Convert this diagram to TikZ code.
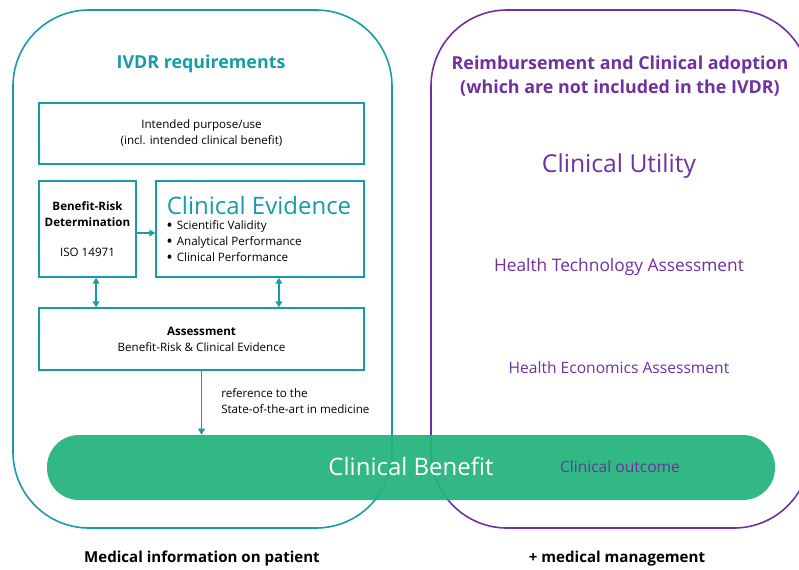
\documentclass[tikz,border=0pt]{standalone}
\usepackage{fontspec}
\setmainfont{Open Sans}
\usetikzlibrary{arrows.meta,positioning}
\definecolor{ivdrteal}{RGB}{22,156,168}
\definecolor{reimbpurple}{RGB}{112,48,160}
\definecolor{benefitgreen}{RGB}{36,180,124}
\newcommand\pxu{0.75pt}
\newcommand\bigbullet{\raisebox{-0.35ex}{\fontsize{13}{12}\selectfont\textbullet}\hspace{3pt}}
\begin{document}
\begin{tikzpicture}[x=0.75pt,y=-0.75pt,
    bigbox/.style={draw, line width=1.2pt, rounded corners=57pt, minimum width={379*\pxu}, minimum height={518*\pxu}},
    tealbox/.style={draw=ivdrteal, line width=1.1pt, align=center, font=\fontsize{8.7}{12}\selectfont, inner sep=0pt},
    tealarrow/.style={draw=ivdrteal, line width=1.1pt, -{Triangle[length=4.5pt,width=5pt]}},
    tealdouble/.style={draw=ivdrteal, line width=1.1pt, {Triangle[length=4.5pt,width=5pt]}-{Triangle[length=4.5pt,width=5pt]}}]
  \useasboundingbox (0,0) rectangle (799,569);
  \clip (0,0) rectangle (799,569);
  % the two areas
  \node[bigbox, draw=ivdrteal] (ivdr) at (202.5,269) {};
  \node[bigbox, draw=reimbpurple] (reimb) at (620.5,269) {};
  \node[text=ivdrteal, font=\fontsize{13.4}{16}\selectfont\bfseries] (ivdrtitle) at (201,63.5) {IVDR requirements};
  \node[text=reimbpurple, font=\fontsize{13.4}{17.5}\selectfont\bfseries, align=center] (reimbtitle) at (620,76) {Reimbursement and Clinical adoption\\(which are not included in the IVDR)};
  % IVDR boxes
  \node[tealbox, minimum width={325*\pxu}, minimum height={61*\pxu}] (purpose) at (201.5,133.5) {Intended purpose/use\\(incl. intended clinical benefit)};
  \node[tealbox, minimum width={97*\pxu}, minimum height={96*\pxu}] (brdet) at (87.5,229) {\textbf{Benefit-Risk}\\\textbf{Determination}\\[11pt]ISO 14971};
  \node[tealbox, minimum width={208*\pxu}, minimum height={96*\pxu}] (clinev) at (260,229) {};
  \node[text=ivdrteal, font=\fontsize{18}{20}\selectfont] (clinevtitle) at (259,205) {Clinical Evidence};
  \node[anchor=north west, align=left, inner sep=0pt, font=\fontsize{8.7}{12}\selectfont] (clinevlist) at (166,220) {\bigbullet Scientific Validity\\\bigbullet Analytical Performance\\\bigbullet Clinical Performance};
  \node[tealbox, minimum width={325*\pxu}, minimum height={62*\pxu}] (assess) at (201.5,339) {\textbf{Assessment}\\Benefit-Risk \& Clinical Evidence};
  % right column texts
  \node[text=reimbpurple, font=\fontsize{18.5}{20}\selectfont] (utility) at (619,166) {Clinical Utility};
  \node[text=reimbpurple, font=\fontsize{13}{14}\selectfont] (hta) at (619,267) {Health Technology Assessment};
  \node[text=reimbpurple, font=\fontsize{11.7}{14}\selectfont] (hea) at (619,368) {Health Economics Assessment};
  % clinical benefit band
  \node[fill=benefitgreen, fill opacity=0.94, rounded corners=24pt, minimum width={728*\pxu}, minimum height={65*\pxu}] (benefit) at (411,467.5) {};
  \node[text=white, font=\fontsize{18}{20}\selectfont] (benefittext) at (411,466) {Clinical Benefit};
  \node[text=reimbpurple, font=\fontsize{11.7}{14}\selectfont] (outcome) at (620,467) {Clinical outcome};
  % connectors
  \draw[tealarrow] (brdet.east |- 0,233) -- (clinev.west |- 0,233);
  \draw[tealdouble] ([xshift=6.4pt]brdet.south) -- ([xshift=6.4pt]brdet.south |- assess.north);
  \draw[tealdouble] ([xshift=14.2pt]clinev.south) -- ([xshift=14.2pt]clinev.south |- assess.north);
  \draw[tealarrow] (assess.south) -- (assess.south |- benefit.north);
  \node[anchor=west, align=left, inner sep=0pt, font=\fontsize{8.7}{12}\selectfont] (sota) at (221,401) {reference to the\\State-of-the-art in medicine};
  % bottom captions
  \node[font=\fontsize{11.3}{14}\selectfont\bfseries] (patient) at (202,559) {Medical information on patient};
  \node[font=\fontsize{11.3}{14}\selectfont\bfseries] (management) at (617,559) {+ medical management};
\end{tikzpicture}
\end{document}
